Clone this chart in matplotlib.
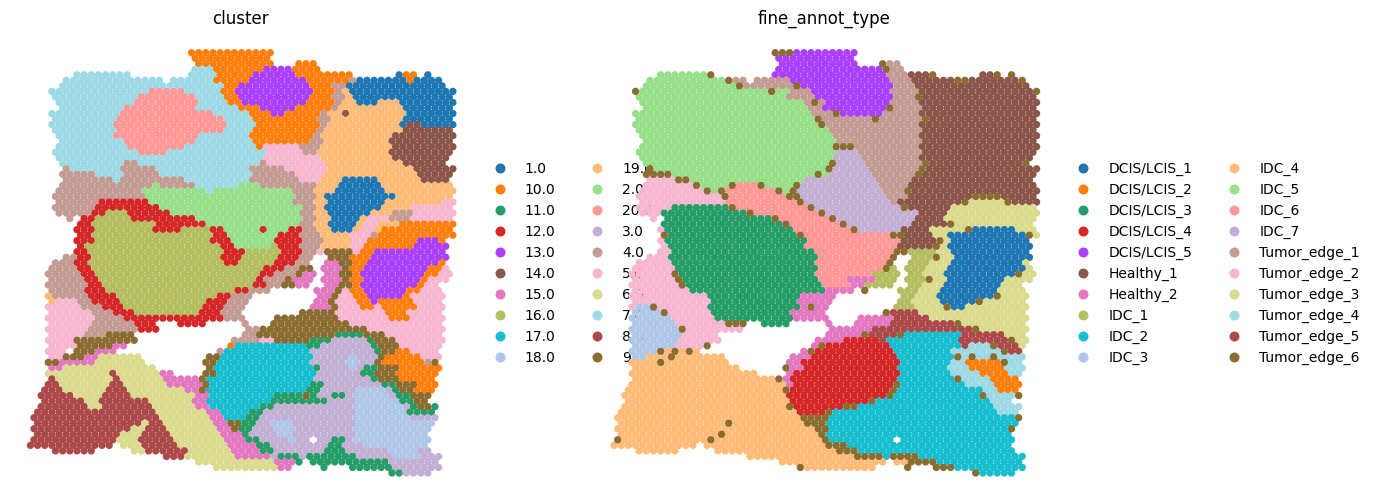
import matplotlib
matplotlib.use('Agg')
from matplotlib import pyplot as plt
from matplotlib.lines import Line2D

palette = ['#1f77b4', '#ff7f0e', '#279e68', '#d62728', '#aa40fc', '#8c564b', '#e377c2',
           '#b5bd61', '#17becf', '#aec7e8', '#ffbb78', '#98df8a', '#ff9896', '#c5b0d5',
           '#c49c94', '#f7b6d2', '#dbdb8d', '#9edae5', '#ad494a', '#8c6d31']
codes = 'abcdefghijklmnopqrst'

cluster_names = ['1.0', '10.0', '11.0', '12.0', '13.0', '14.0', '15.0', '16.0', '17.0', '18.0',
                 '19.0', '2.0', '20.0', '3.0', '4.0', '5.0', '6.0', '7.0', '8.0', '9.0']
fine_names = ['DCIS/LCIS_1', 'DCIS/LCIS_2', 'DCIS/LCIS_3', 'DCIS/LCIS_4', 'DCIS/LCIS_5',
              'Healthy_1', 'Healthy_2', 'IDC_1', 'IDC_2', 'IDC_3', 'IDC_4', 'IDC_5', 'IDC_6',
              'IDC_7', 'Tumor_edge_1', 'Tumor_edge_2', 'Tumor_edge_3', 'Tumor_edge_4',
              'Tumor_edge_5', 'Tumor_edge_6']

# one line per array row: first column, then runs of <category code><count>, '.' is no spot
cluster_rows = [
    "22 b12", "23 b11", "23 b11 .3 b3", "23 r3 b7 e4 b4",
    "6 r8 .8 r4 b5 e6 b8 .6 a1 b2 .1 a1",
    "5 r14 .1 r6 b5 e8 b6 o1 a7 b1 a4",
    "4 r23 b2 e10 b3 o2 a14",
    "3 r14 m5 r5 b2 e11 b3 o1 k1 a15",
    "3 r12 m8 r4 b2 e10 b3 o2 k1 a14",
    "4 r11 m9 r4 b2 e9 b4 o1 k2 a3 k3 a8",
    "4 r9 m10 r6 b3 e5 b5 o1 k9 a7",
    "3 r10 m13 r5 b3 e2 b5 o1 k2 f1 k8 a7",
    "3 r9 m15 r4 b9 o2 k10 a7",
    "3 r9 m16 r4 b9 o1 k10 a1 f2 a5",
    "3 r9 m15 r4 b9 o1 k11 f7",
    "4 r8 m12 r7 b9 o1 k10 f9",
    "4 r9 m10 r8 b8 o2 k9 f9",
    "4 r10 m8 r10 b1 p5 o3 k10 f9",
    "3 r12 m4 r14 p5 o2 k10 f9",
    "4 r29 p8 k10 f8",
    "4 r9 o2 r17 o1 p8 k11 f6",
    "5 o1 r7 o5 r13 o5 p6 k12 f6",
    "4 o5 r4 o5 r13 o6 p4 k13 f5",
    "5 o7 r1 o9 r9 o7 p3 k3 a5 k6 f4",
    "4 o13 l1 o5 r6 l3 o8 k3 a6 k10",
    "4 o12 l9 r1 l11 o3 k3 a7 k10",
    "3 o13 l21 o3 k1 a10 k8",
    "4 o6 d7 l20 o3 k2 a8 k8 p2",
    "3 o6 d9 l20 o2 k1 a8 k4 p6",
    "4 o5 d2 h3 d6 l18 o2 k2 a6 k3 o3 p6",
    "5 o1 .1 d2 h5 d9 l15 o2 k2 a4 k1 p3 o3 p6",
    "7 d2 h9 d7 l13 o2 k2 a4 k1 p2 k3 b8",
    "6 d3 h8 d4 h4 d2 l5 d1 l3 d2 o2 k2 a3 k1 p2 k1 b10",
    "7 d2 h17 d2 l7 d3 o3 k4 p3 o1 b11",
    "6 d3 h16 d3 l6 d4 o3 k4 p2 b7 e3 b1",
    "7 d1 h19 d2 l5 h1 d3 o3 k4 p2 b7 e5",
    "6 d2 h19 d3 h5 d3 o2 p1 t4 p1 b2 e10",
    "5 o2 d2 h18 d3 h5 d3 o2 .2 t3 b3 e11",
    "3 o3 d2 h19 d2 h5 d3 o2 .2 g2 t2 b2 e10 b1",
    "3 o4 d2 h24 d3 o2 t2 .1 g3 t1 b2 e9 b2 p1",
    "2 o5 d2 h23 d2 o3 t1 g2 .1 g2 t2 b1 e9 b2 p2",
    "3 o5 d2 h22 d1 o3 t1 g3 .1 g3 t1 b2 e8 b1 p3",
    "2 o6 d2 h21 d2 o2 t2 g2 .2 g2 t2 b1 e8 b1 p2",
    "3 o5 d3 h18 d2 o3 .6 g3 t1 p1 b2 e6 b2 p3",
    "2 k1 o5 d4 h14 d2 o3 .9 g2 t1 p2 b2 e5 b1 p5",
    "3 k1 p3 o2 d4 h12 d3 o3 .9 g2 t1 p3 b2 e1 b5 p4",
    "2 p5 o3 d3 h11 d3 o3 .9 g3 t1 p3 b2 p1 b5 p4",
    "3 p6 o3 d3 h9 d3 o3 .8 t5 p7 b3 p5",
    "2 p7 o4 d14 o3 .4 t9 p7 b3 p5",
    "3 p6 o6 d3 .3 d4 .5 o1 .3 t11 p13",
    "2 p6 o7 d3 .12 o2 t15 p11",
    "3 p5 o3 t4 .15 o2 t11 c4 t3 p8",
    "2 p4 t9 .13 o4 p2 t5 c3 n5 c1 t3 p7",
    "3 p4 t5 g2 .14 b1 i10 c2 n7 c1 t3 p6",
    "2 p3 .1 t3 g3 .14 o1 i12 n9 c1 t2 b2 p4",
    "3 p2 t3 g2 q6 .9 t2 i13 n5 j1 n3 t1 b5 p3",
    "2 t2 g5 q7 .8 t2 i13 n5 j2 n2 t1 b6 o1 t1",
    "3 g2 q13 .7 t1 i14 c1 n4 j1 n1 c2 t3 b6",
    "2 q9 s1 q6 g2 .4 t2 i14 n6 c2 t3 b6",
    "3 s1 q8 s1 q6 g5 t1 i15 n8 c1 t3 b5",
    "2 s2 q7 s2 q6 g5 t1 i14 c2 n8 c2 t3 b3",
    "2 s3 q6 s3 q8 g2 t1 i14 c2 n5 j4 n1 c1 t2 b3",
    "1 s5 q4 s4 q9 g2 i9 c4 t1 c1 n2 c2 n1 j5 n1 c2 t3",
    "2 s6 q2 s7 q6 g2 i9 c8 n4 j6 c2 t2",
    "1 s7 q2 s7 q6 g2 i7 c2 n11 j7 n1 c1 t2 c1",
    "1 s17 q7 g2 i4 c2 n13 j7 c4",
    "0 s18 q7 g2 i3 c2 n13 j8 n4",
    "1 s15 q1 s2 q7 g2 t2 c2 n2 j3 n9 j11",
    "0 s14 q2 s3 q7 g2 t1 c2 n3 j3 n8 j11",
    "1 s12 q3 s4 q7 g3 c1 n4 j2 n9 j10",
    "0 s12 q3 s5 q7 g3 c2 n4 j1 n2 .1 n2 c2 n1 j11",
    "0 s12 .1 q3 s5 q7 g4 c2 n8 c2 n3 j9",
    "3 s6 .5 q2 s6 q6 g4 c2 n7 c3 n6 j4 n2",
    "19 s3 q7 g5 n1 c3 n1 c7 n5 j4 n3",
    "23 q11 g3 c1 .1 c11 n7",
    "26 q9 g2 .4 c1 .3 c6 n7",
    "50 c2 n4",
]

fine_rows = [
    "22 t3 e9", "23 e11", "23 e11 .3 t1 o2", "23 e15 t1 o2",
    "6 l7 t1 .8 e16 o3 f3 t1 .6 f2 t1 .1 t1",
    "5 l11 t1 o2 .1 o5 e14 o3 f6 t2 f7 t1",
    "4 l13 t1 o7 t1 e13 o3 f16",
    "3 t1 l18 t1 l2 o3 e11 o4 f16 t1",
    "3 l21 o4 e11 o3 t1 f16",
    "4 l23 o1 t1 o1 e9 o4 f17",
    "4 l23 o2 e9 t1 o4 f16",
    "3 l25 o3 t1 e6 o5 f17",
    "3 l25 t1 o7 t1 o6 t1 f15",
    "3 l26 t1 o13 f17",
    "3 l27 o13 f16",
    "4 l27 o12 f17",
    "4 l27 o12 f16",
    "4 l27 t3 o9 f17",
    "3 l28 n3 o9 f16",
    "4 l27 n4 o8 f16",
    "4 l26 t1 n4 o8 t1 f13 t1",
    "5 t1 l24 t1 n5 o7 t1 f16",
    "4 t4 l20 t1 l1 n6 o6 t1 f16",
    "5 p4 t2 l16 n10 o5 f17",
    "4 p7 t1 l4 t1 m3 t1 l4 t1 n11 o4 f18",
    "4 p9 t1 l1 t1 m7 t1 l1 t1 n12 o3 t1 f18",
    "3 p12 t1 m8 t2 n12 o3 f9 t4 f5",
    "4 p12 m10 t1 n12 o1 f9 t1 q5 t1 f4",
    "3 p5 c8 t1 m10 t1 n12 t1 f6 q12",
    "4 p3 c12 t1 m9 t1 n13 f4 q13",
    "5 p1 .1 c15 t1 m7 t1 n11 f4 q13",
    "7 c17 t1 m7 t1 n9 f5 t1 q11",
    "6 p1 c18 m8 t1 n6 f4 q5 t1 a6 q3",
    "7 t1 c18 t1 m12 t2 f4 q2 a11 t1 q1",
    "6 p1 c20 m13 f5 t1 q1 a11",
    "7 p1 c19 m13 f5 t1 q1 a12",
    "6 p2 c20 m11 t2 h4 q2 a11",
    "5 p3 c21 m10 t1 .2 h3 t1 q2 a11",
    "3 p5 c20 m10 t1 .2 h3 q3 a10 q1",
    "3 p6 c20 m9 t1 h1 .1 h3 q3 a11 q1",
    "2 p6 t1 c19 m8 h4 .1 h2 q3 a10 t1 q2",
    "3 p6 t1 c19 m4 g4 h3 .1 h3 t1 q2 a8 q4",
    "2 p7 t1 c19 m4 g2 h4 .2 h2 q3 a8 q3",
    "3 p8 c19 g4 .1 t1 .4 h3 q3 a8 q4",
    "2 p11 c13 g5 .9 h2 q3 a8 t1 q4",
    "3 p11 c12 g5 .9 h2 q4 a5 t1 q6",
    "2 p1 j2 t1 p7 c13 g1 t1 g2 .9 h3 q4 t1 a2 q9",
    "3 j4 t1 p6 c11 g5 .8 t1 s4 q15",
    "2 j6 p6 c11 g5 .4 g5 s5 q14",
    "3 j6 p7 t3 .2 c4 .5 g1 .3 g5 s9 t1 q9",
    "2 j7 t1 p8 .12 g6 s14 t1 q7",
    "3 j7 p5 .15 g5 t1 s4 t1 i8 s6 q3",
    "2 j7 p6 .13 g4 d5 s1 i10 s7 t1 q2",
    "3 j6 p4 t1 .14 g1 t1 d9 i10 s1 r3 t1 s3 q1",
    "2 j4 t1 k1 t1 k1 t1 k1 .14 g1 t1 d11 i8 r7 t1 s2",
    "3 j2 k3 t1 k7 .9 g3 d12 i8 t1 r1 t1 r2 t1 r4",
    "2 k4 t1 k9 .8 g2 d14 i7 r2 b5 t1 r2",
    "3 k15 .6 t1 g2 d13 i7 r3 b5 r3",
    "2 k18 .4 g1 d15 i7 r4 b4 r2",
    "3 k20 t1 g1 d15 i8 t1 r4 b4",
    "2 k22 g1 d14 t1 i9 r4 b4",
    "2 k22 t1 d14 t1 i12 r2 b3",
    "1 k23 d14 t1 i12 t1 r4 t1",
    "2 k23 d11 t1 i16 r3",
    "1 k23 t1 d7 t2 i19 r4",
    "1 k25 d4 t1 i23 r3",
    "0 k26 t4 i26 t1",
    "1 k15 t1 k10 t3 i27",
    "0 k28 t2 i25 t1",
    "1 k14 t1 k13 t1 i26",
    "0 t1 k12 t1 k15 t1 i9 .1 i16",
    "0 k12 .1 k17 t3 i23",
    "3 k6 .5 k17 t3 i22",
    "19 k15 t4 i1 t4 i15",
    "23 k15 .1 k2 t4 i12",
    "26 t1 k10 .4 t1 .3 t3 i10",
    "50 t1 i5",
]


def decode(rows):
    spots = []
    for r, line in enumerate(rows):
        parts = line.split()
        col = int(parts[0])
        for run in parts[1:]:
            n = int(run[1:])
            if run[0] != '.':
                for c in range(col, col + n):
                    # odd rows sit half a column to the left
                    spots.append((c - 0.5 * (r % 2), r, run[0]))
            col += n
    # last category goes on top
    spots.sort(key=lambda s: s[2] == 't')
    xs = [s[0] for s in spots]
    ys = [s[1] for s in spots]
    colors = [palette[codes.index(s[2])] for s in spots]
    return xs, ys, colors


W, H = 1374, 504
fig = plt.figure(figsize=(W / 100, H / 100), dpi=100)

panels = [(8, cluster_rows, cluster_names, 'cluster'),
          (591.7, fine_rows, fine_names, 'fine_annot_type')]
for left, rows, names, title in panels:
    ax = fig.add_axes([left / W, (H - 495) / H, 465.4 / W, 463 / H])
    xs, ys, colors = decode(rows)
    ax.scatter(xs, ys, c=colors, s=28, linewidths=0)
    ax.set_xlim(-26 / 7.16, 439.4 / 7.16)
    ax.set_ylim(442.3 / 5.53, -20.7 / 5.53)
    ax.set_title(title, fontsize=12)
    ax.axis('off')
    handles = [Line2D([], [], ls='', marker='o', ms=7.2, mew=0, color=palette[i], label=name)
               for i, name in enumerate(names)]
    ax.legend(handles=handles, loc='center left', bbox_to_anchor=(1, 0.5), ncol=2,
              frameon=False, numpoints=1)

fig.savefig('out.png', dpi=100)
